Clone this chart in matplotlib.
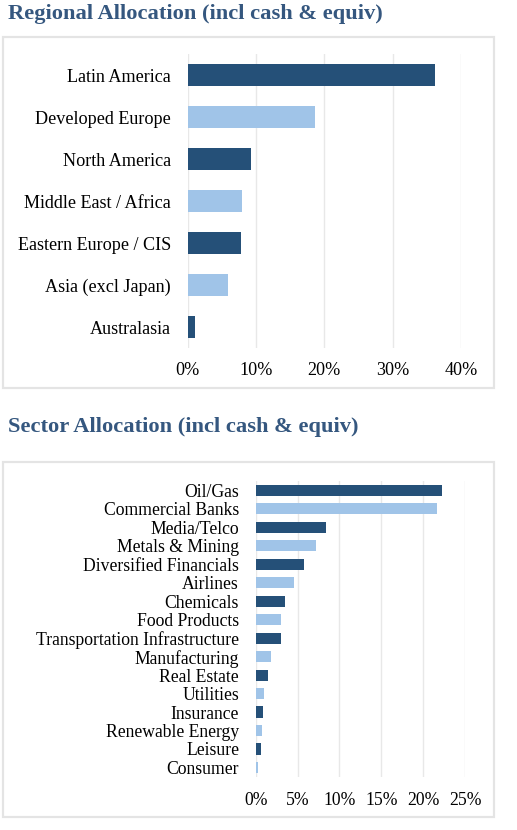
import matplotlib.pyplot as plt
from matplotlib.patches import Rectangle
from matplotlib.ticker import PercentFormatter

regions = ["Latin America", "Developed Europe", "North America", "Middle East / Africa",
           "Eastern Europe / CIS", "Asia (excl Japan)", "Australasia"]
region_pct = [36.2, 18.6, 9.3, 8.0, 7.8, 5.85, 1.1]
region_ticks = [0, 10, 20, 30, 40]

sectors = ["Oil/Gas", "Commercial Banks", "Media/Telco", "Metals & Mining",
           "Diversified Financials", "Airlines", "Chemicals", "Food Products",
           "Transportation Infrastructure", "Manufacturing", "Real Estate", "Utilities",
           "Insurance", "Renewable Energy", "Leisure", "Consumer"]
sector_pct = [22.2, 21.7, 8.4, 7.2, 5.8, 4.6, 3.5, 3.0, 3.0, 1.85, 1.5, 1.05, 0.9, 0.75, 0.6, 0.25]
sector_ticks = [0, 5, 10, 15, 20, 25]

DARK = "#255078"
LIGHT = "#A0C4E8"
TITLE = "#35577F"
W, H = 517, 830

plt.rcParams['font.family'] = ['Liberation Serif', 'DejaVu Serif']

fig = plt.figure(figsize=(W / 100, H / 100), dpi=100)


def px_axes(left, top, right, bottom):
    return fig.add_axes([left / W, 1 - bottom / H, (right - left) / W, (bottom - top) / H])


def frame(left, top, right, bottom):
    fig.patches.append(Rectangle((left / W, 1 - bottom / H), (right - left) / W, (bottom - top) / H,
                                 transform=fig.transFigure, fill=False, edgecolor="#E4E4E4",
                                 linewidth=1.6))


def bar_panel(ax, labels, values, ticks, height, fs, xpad):
    colors = [DARK if i % 2 == 0 else LIGHT for i in range(len(values))]
    ax.barh(labels, values, height=height, color=colors, zorder=3)
    ax.set_xlim(ticks[0], ticks[-1])
    ax.set_ylim(len(labels) - 0.5, -0.5)
    ax.set_xticks(ticks)
    ax.xaxis.set_major_formatter(PercentFormatter(decimals=0))
    ax.grid(axis='x', color="#E8E8E8", linewidth=1, zorder=0)
    ax.grid(axis='y', visible=False)
    for s in ax.spines.values():
        s.set_visible(False)
    ax.tick_params(axis='y', length=0, pad=12, labelsize=fs)
    ax.tick_params(axis='x', length=0, pad=xpad, labelsize=fs)


# regional panel
frame(3, 37, 494, 388)
fig.text(8 / W, 1 - 14 / H, "Regional Allocation (incl cash & equiv)", fontsize=16.2,
         fontweight='bold', color=TITLE, va='center', ha='left')
ax1 = px_axes(187.7, 54.3, 461, 348)
bar_panel(ax1, regions, region_pct, region_ticks, 0.53, 13.1, 10)

# sector panel
frame(3, 462, 494, 817)
fig.text(8 / W, 1 - 427 / H, "Sector Allocation (incl cash & equiv)", fontsize=16.2,
         fontweight='bold', color=TITLE, va='center', ha='left')
ax2 = px_axes(255.7, 481, 465, 776.7)
bar_panel(ax2, sectors, sector_pct, sector_ticks, 0.6, 12.7, 11)

plt.savefig("out.png", dpi=100)
